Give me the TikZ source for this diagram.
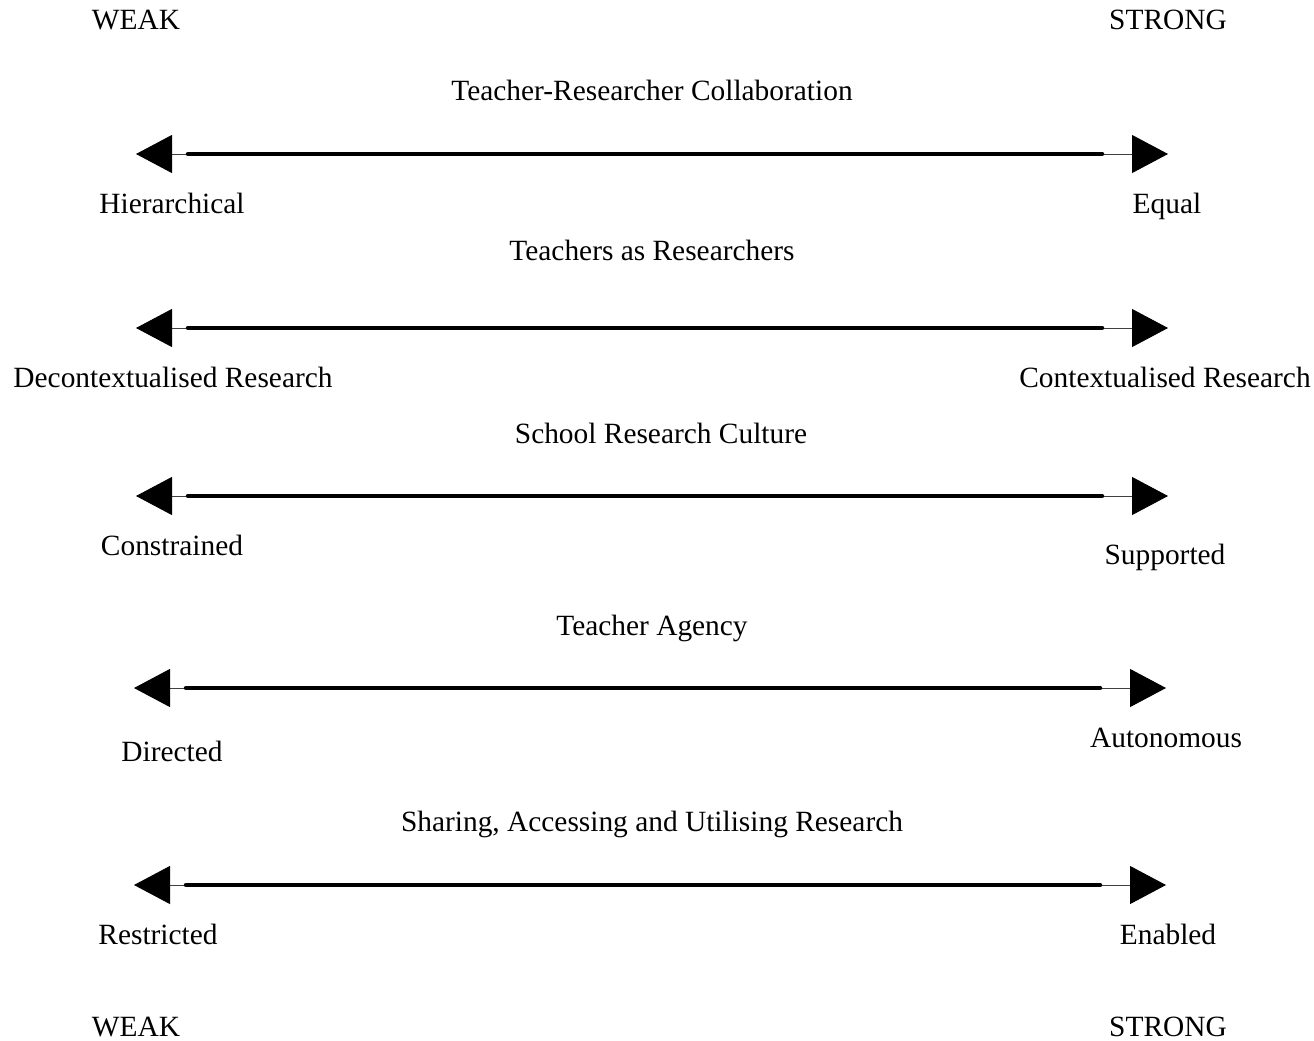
\documentclass[tikz,border=0pt]{standalone}
\usepackage{fontspec}
\setmainfont{Liberation Serif}
\usetikzlibrary{arrows.meta}

\tikzset{
  lbl/.style={inner sep=0pt, text height=20bp, text depth=6bp,
    font=\fontsize{29.5}{34}\selectfont},
  guide/.style={line width=1bp, black!75,
    {Triangle[length=36bp,width=38bp,black]}-{Triangle[length=36bp,width=38bp,black]}},
  bar/.style={line width=4.5bp, line cap=round, shorten <=52bp, shorten >=66bp}
}

\begin{document}
\begin{tikzpicture}[x=1bp, y=-1bp]

\useasboundingbox (0,0) rectangle (1314,1040);

% arrow ends
\coordinate (l1) at (136,154);
\coordinate (r1) at (1168,154);
\coordinate (l2) at (136,328);
\coordinate (r2) at (1168,328);
\coordinate (l3) at (136,496);
\coordinate (r3) at (1168,496);
\coordinate (l4) at (134,688);
\coordinate (r4) at (1166,688);
\coordinate (l5) at (134,885);
\coordinate (r5) at (1166,885);

\draw [guide] (l1) -- (r1);
\draw [bar] (l1) -- (r1);
\draw [guide] (l2) -- (r2);
\draw [bar] (l2) -- (r2);
\draw [guide] (l3) -- (r3);
\draw [bar] (l3) -- (r3);
\draw [guide] (l4) -- (r4);
\draw [bar] (l4) -- (r4);
\draw [guide] (l5) -- (r5);
\draw [bar] (l5) -- (r5);

\node [lbl] (weaktop) at (136,22) {WEAK};
\node [lbl] (strongtop) at (1168,22) {STRONG};
\node [lbl] (weakbot) at (136,1029) {WEAK};
\node [lbl] (strongbot) at (1168,1029) {STRONG};

\node [lbl] (title1) at (652,93) {Teacher-Researcher Collaboration};
\node [lbl] (title2) at (652,253) {Teachers as Researchers};
\node [lbl] (title3) at (661,436) {School Research Culture};
\node [lbl] (title4) at (652,628) {Teacher Agency};
\node [lbl] (title5) at (652,824) {Sharing, Accessing and Utilising Research};

\node [lbl] (lo1) at (172,206) {Hierarchical};
\node [lbl] (hi1) at (1167,206) {Equal};
\node [lbl] (lo2) at (173,380) {Decontextualised Research};
\node [lbl] (hi2) at (1165,380) {Contextualised Research};
\node [lbl] (lo3) at (172,548) {Constrained};
\node [lbl] (hi3) at (1165,557) {Supported};
\node [lbl] (lo4) at (172,754) {Directed};
\node [lbl] (hi4) at (1166,740) {Autonomous};
\node [lbl] (lo5) at (158,937) {Restricted};
\node [lbl] (hi5) at (1168,937) {Enabled};
\end{tikzpicture}
\end{document}
